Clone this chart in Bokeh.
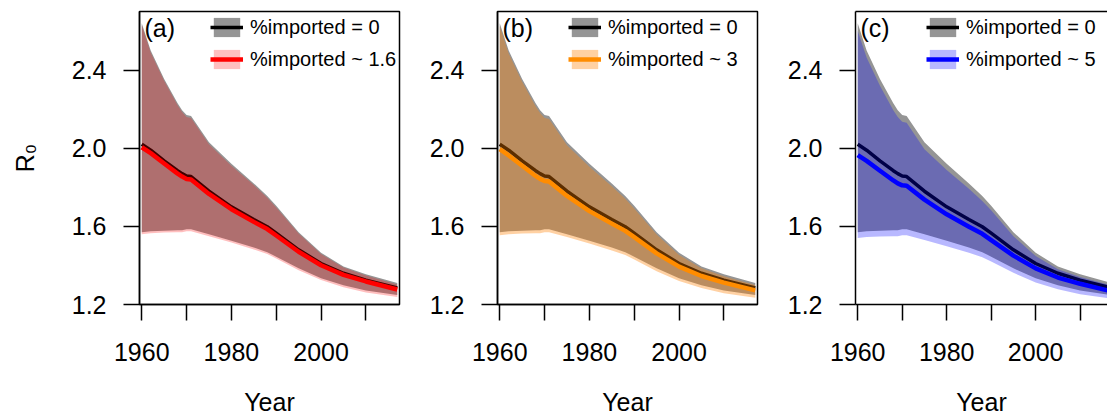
from bokeh.plotting import figure
from bokeh.layouts import row
from bokeh.models import (ColumnDataSource, FixedTicker, PrintfTickFormatter, Legend,
                          LegendItem, Label, LinearAxis, Range1d)
from bokeh.embed import file_html
from bokeh.resources import INLINE

years = [1960, 1962, 1965, 1968, 1969, 1970, 1971, 1975, 1980, 1985, 1988, 1990, 1995, 2000, 2005, 2010, 2017]

# %imported = 0 (shared by all panels)
mid0 = [2.02, 1.99, 1.935, 1.885, 1.87, 1.858, 1.855, 1.78, 1.70, 1.635, 1.598, 1.565, 1.48, 1.41, 1.36, 1.325, 1.285]
hi0 = [2.64, 2.50, 2.355, 2.23, 2.195, 2.17, 2.165, 2.03, 1.92, 1.82, 1.755, 1.705, 1.57, 1.465, 1.395, 1.355, 1.31]
lo0 = [1.57, 1.575, 1.578, 1.58, 1.58, 1.585, 1.585, 1.56, 1.527, 1.492, 1.468, 1.445, 1.385, 1.335, 1.298, 1.272, 1.248]

# (a) %imported ~ 1.6
mid_a = [2.005, 1.975, 1.922, 1.87, 1.855, 1.843, 1.84, 1.766, 1.688, 1.623, 1.586, 1.553, 1.47, 1.401, 1.352, 1.318, 1.277]
hi_a = [2.63, 2.49, 2.345, 2.22, 2.185, 2.16, 2.155, 2.02, 1.91, 1.812, 1.747, 1.697, 1.563, 1.458, 1.389, 1.349, 1.303]
lo_a = [1.56, 1.565, 1.568, 1.57, 1.57, 1.575, 1.575, 1.55, 1.517, 1.482, 1.458, 1.435, 1.375, 1.325, 1.288, 1.262, 1.238]

# (b) %imported ~ 3
mid_b = [1.995, 1.963, 1.91, 1.858, 1.843, 1.832, 1.83, 1.756, 1.678, 1.614, 1.577, 1.545, 1.462, 1.394, 1.346, 1.312, 1.272]
hi_b = [2.625, 2.485, 2.34, 2.215, 2.18, 2.155, 2.15, 2.015, 1.905, 1.806, 1.742, 1.692, 1.558, 1.454, 1.385, 1.345, 1.30]
lo_b = [1.555, 1.56, 1.563, 1.565, 1.565, 1.57, 1.57, 1.545, 1.512, 1.477, 1.453, 1.43, 1.37, 1.32, 1.284, 1.258, 1.234]

# (c) %imported ~ 5
mid_c = [1.965, 1.935, 1.885, 1.835, 1.82, 1.81, 1.808, 1.737, 1.662, 1.598, 1.562, 1.53, 1.45, 1.385, 1.338, 1.306, 1.268]
hi_c = [2.60, 2.465, 2.32, 2.195, 2.16, 2.135, 2.13, 1.995, 1.888, 1.792, 1.73, 1.682, 1.55, 1.448, 1.38, 1.341, 1.297]
lo_c = [1.54, 1.545, 1.548, 1.55, 1.55, 1.555, 1.555, 1.53, 1.498, 1.465, 1.442, 1.42, 1.362, 1.313, 1.278, 1.253, 1.23]

x_ticks = [1960, 1970, 1980, 1990, 2000, 2010]
x_labels = {1960: "1960", 1970: "", 1980: "1980", 1990: "", 2000: "2000", 2010: ""}
y_ticks = [1.2, 1.6, 2.0, 2.4]

FONT = "Liberation Sans"


def panel(tag, mid, hi, lo, fill, alpha, lcol, legend_text, width, mb_left, mb_right,
          x_end, ylabel, right_border):
    src = ColumnDataSource(dict(year=years, mid0=mid0, hi0=hi0, lo0=lo0, mid=mid, hi=hi, lo=lo))
    p = figure(width=width, height=418, output_backend="svg", toolbar_location=None,
               x_range=Range1d(1959.5, x_end), y_range=Range1d(1.2, 2.7),
               min_border_left=mb_left, min_border_right=mb_right,
               min_border_top=11, min_border_bottom=113)
    p.grid.visible = False
    p.background_fill_color = "white"
    p.border_fill_color = "white"

    g = p.varea(x="year", y1="lo0", y2="hi0", source=src, fill_color="#959595", fill_alpha=1)
    bl = p.line(x="year", y="mid0", source=src, line_color="black", line_width=3.5,
                line_join="round")
    c = p.varea(x="year", y1="lo", y2="hi", source=src, fill_color=fill, fill_alpha=alpha)
    cl = p.line(x="year", y="mid", source=src, line_color=lcol, line_width=4.5,
                line_join="round")

    xa = p.below[0]
    xa.ticker = FixedTicker(ticks=x_ticks)
    xa.major_label_overrides = x_labels
    xa.axis_label = "Year"
    ya = p.left[0]
    ya.ticker = FixedTicker(ticks=y_ticks)
    ya.formatter = PrintfTickFormatter(format="%.1f")
    if ylabel:
        ya.axis_label = "R\u2080"
    for ax in (xa, ya):
        ax.major_tick_out = 16
        ax.major_tick_in = 0
        ax.minor_tick_out = 0
        ax.minor_tick_in = 0
        ax.major_tick_line_width = 1.5
        ax.axis_line_width = 1.5
        ax.major_tick_line_color = "black"
        ax.axis_line_color = "black"
        ax.major_label_text_font = FONT
        ax.major_label_text_font_size = "25px"
        ax.major_label_text_color = "black"
        ax.axis_label_text_font = FONT
        ax.axis_label_text_font_size = "25px"
        ax.axis_label_text_font_style = "normal"
        ax.axis_label_text_color = "black"
    xa.major_label_standoff = 22
    xa.axis_label_standoff = 24
    ya.major_label_standoff = 17
    ya.axis_label_standoff = 30

    if right_border:
        p.outline_line_color = "black"
        p.outline_line_width = 1.5
        p.outline_line_alpha = 1
    else:
        p.outline_line_color = None
        top = LinearAxis(ticker=FixedTicker(ticks=[]), major_label_text_font_size="0px",
                         axis_line_width=1.5, axis_line_color="black",
                         major_tick_out=0, major_tick_in=0, minor_tick_out=0,
                         minor_tick_in=0, major_label_standoff=0)
        p.add_layout(top, "above")

    legend = Legend(items=[LegendItem(label="%imported = 0", renderers=[g, bl]),
                           LegendItem(label=legend_text, renderers=[c, cl])],
                    location=(71, 233), orientation="vertical")
    legend.glyph_width = 33
    legend.glyph_height = 24
    legend.label_height = 24
    legend.label_standoff = 7
    legend.spacing = 8
    legend.padding = 0
    legend.margin = 0
    legend.border_line_color = None
    legend.background_fill_alpha = 0
    legend.label_text_font = FONT
    legend.label_text_font_size = "20px"
    legend.label_text_color = "black"
    p.add_layout(legend, "center")

    p.add_layout(Label(x=5, y=277, x_units="screen", y_units="screen", text=tag,
                       text_font=FONT, text_font_size="25px", text_baseline="middle",
                       text_color="black"))
    return p


pa = panel("(a)", mid_a, hi_a, lo_a, "#ff0000", 0.25, "#ff0000", "%imported ~ 1.6",
           426, 139, 27, 2017.5, True, True)
pb = panel("(b)", mid_b, hi_b, lo_b, "#ff7f00", 0.36, "#ff8c00", "%imported ~ 3",
           358, 70, 27, 2017.5, False, True)
pc = panel("(c)", mid_c, hi_c, lo_c, "#0000ff", 0.28, "#0000ff", "%imported ~ 5",
           323, 69, 0, 2016.15, False, False)

layout = row(pa, pb, pc, spacing=0)
open("out.html", "w").write(file_html(layout, INLINE))
